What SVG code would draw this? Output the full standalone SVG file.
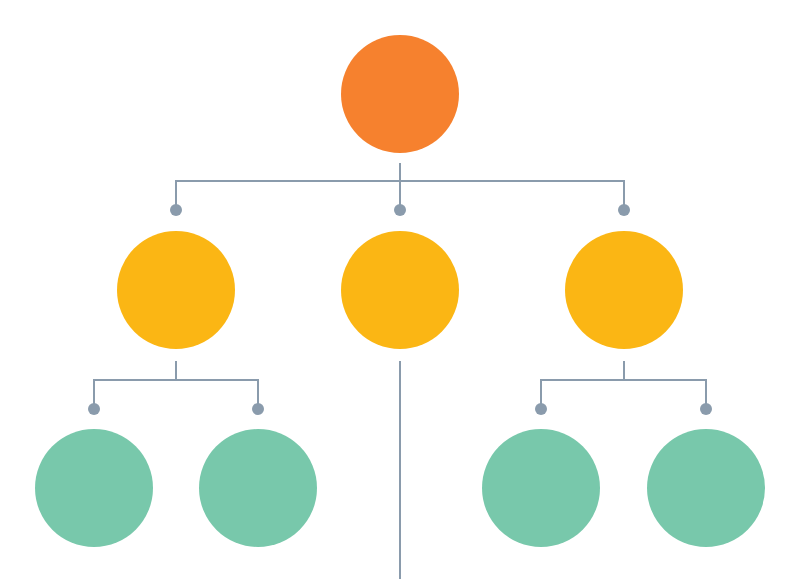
<svg xmlns="http://www.w3.org/2000/svg" width="800" height="579" viewBox="0 0 800 579">
<style>
.ln{fill:none;stroke:#8A9BAC;stroke-width:2}
.dot{fill:#8A9BAC}
.o{fill:#F6812E}
.y{fill:#FBB614}
.g{fill:#78C8AB}
</style>
<rect width="800" height="579" fill="#fff"/>
<g id="connectors">
<path class="ln" d="M400 163V210M176 210V181H624V210"/>
<path class="ln" d="M176 361V380M94 409V380H258V409"/>
<path class="ln" d="M624 361V380M541 409V380H706V409"/>
<path class="ln" d="M400 361V579"/>
<circle class="dot" cx="176" cy="210" r="6"/>
<circle class="dot" cx="400" cy="210" r="6"/>
<circle class="dot" cx="624" cy="210" r="6"/>
<circle class="dot" cx="94" cy="409" r="6"/>
<circle class="dot" cx="258" cy="409" r="6"/>
<circle class="dot" cx="541" cy="409" r="6"/>
<circle class="dot" cx="706" cy="409" r="6"/>
</g>
<g id="root"><circle class="o" cx="400" cy="94" r="59"/></g>
<g id="n1"><circle class="y" cx="176" cy="290" r="59"/></g>
<g id="n2"><circle class="y" cx="400" cy="290" r="59"/></g>
<g id="n3"><circle class="y" cx="624" cy="290" r="59"/></g>
<g id="n11"><circle class="g" cx="94" cy="488" r="59"/></g>
<g id="n12"><circle class="g" cx="258" cy="488" r="59"/></g>
<g id="n31"><circle class="g" cx="541" cy="488" r="59"/></g>
<g id="n32"><circle class="g" cx="706" cy="488" r="59"/></g>
</svg>
